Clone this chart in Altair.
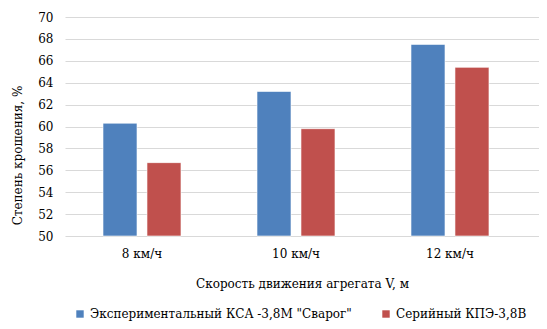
import altair as alt
import pandas as pd

speeds = ["8 км/ч", "10 км/ч", "12 км/ч"]
series = ['Экспериментальный КСА -3,8М "Сварог"', "Серийный КПЭ-3,8В"]
exp_vals = [60.3, 63.2, 67.5]
ser_vals = [56.7, 59.8, 65.4]
colors = ["#4F81BD", "#C0504D"]

rows = []
for i, s in enumerate(speeds):
    rows.append({"speed": s, "series": series[0], "value": exp_vals[i]})
    rows.append({"speed": s, "series": series[1], "value": ser_vals[i]})
df = pd.DataFrame(rows)

FONT = "DejaVu Serif"
FS = 12

chart = alt.Chart(df).mark_bar(stroke="white", strokeWidth=0.6).encode(
    x=alt.X("speed:N", sort=speeds,
            scale=alt.Scale(paddingInner=0, paddingOuter=0.039, align=0),
            axis=alt.Axis(title="Скорость движения агрегата V, м", labelAngle=0,
                          ticks=False, domain=False, labelPadding=12, titlePadding=19,
                          labelFontSize=FS, titleFontSize=FS, labelFont=FONT, titleFont=FONT,
                          titleFontWeight="normal", labelColor="#000", titleColor="#000")),
    xOffset=alt.XOffset("series:N", sort=series,
                        scale=alt.Scale(paddingInner=0.227, paddingOuter=0.864)),
    y=alt.Y("value:Q", scale=alt.Scale(domain=[50, 70], zero=False, nice=False),
            axis=alt.Axis(title="Степень крошения, %", values=list(range(50, 71, 2)),
                          ticks=False, domain=False, labelPadding=12,
                          labelFontSize=FS, titleFontSize=FS, labelFont=FONT, titleFont=FONT,
                          titleFontWeight="normal", labelColor="#000", titleColor="#000",
                          gridColor="#D9D9D9", gridWidth=1,
                          titleAngle=-90, titleX=-48, titleY=138, titleAlign="center",
                          titleBaseline="middle")),
    y2=alt.datum(50),
    color=alt.Color("series:N", sort=series,
                    scale=alt.Scale(domain=series, range=colors),
                    legend=alt.Legend(title=None, orient="none", direction="horizontal",
                                      legendX=9, legendY=291, symbolType="square",
                                      symbolSize=55, symbolStrokeWidth=0,
                                      labelFont=FONT, labelFontSize=FS, labelColor="#000",
                                      columnPadding=28, labelLimit=400)),
).properties(
    width=474, height=219,
    autosize=alt.AutoSizeParams(type="none"),
    padding={"left": 57, "top": 9, "right": 0, "bottom": 85},
).configure_view(stroke=None).configure_axisX(grid=False)

chart.save("out.html", embed_options={"renderer": "svg", "actions": False})
